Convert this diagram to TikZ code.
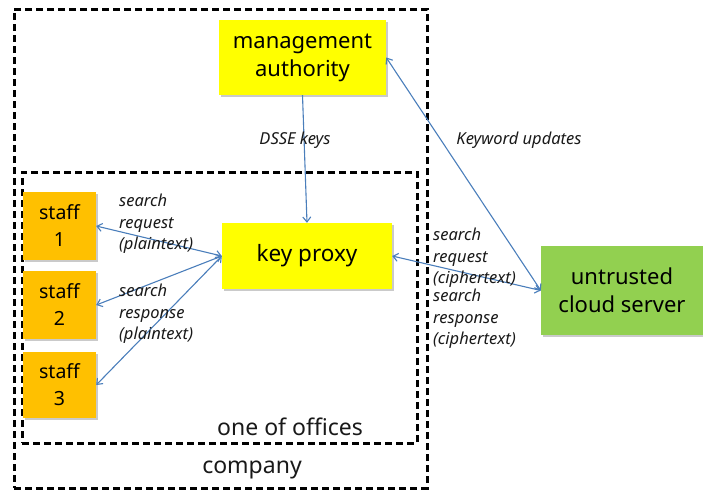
\documentclass[tikz,border=0pt]{standalone}
\usepackage{fontspec}
\setmainfont{Noto Sans}
\usetikzlibrary{arrows.meta,shadows}
\definecolor{arrowblue}{HTML}{4A7EBB}
\definecolor{boxyellow}{HTML}{FFFF00}
\definecolor{boxorange}{HTML}{FFC000}
\definecolor{boxgreen}{HTML}{92D050}
\tikzset{
  box/.style={draw=none, inner sep=0pt, align=center, text=black,
    font=\fontsize{22}{28}\selectfont,
    drop shadow={shadow xshift=1.5pt, shadow yshift=-1.5pt, fill=black!35, opacity=0.6}},
  ybox/.style={box, fill=boxyellow},
  sbox/.style={box, fill=boxorange, font=\fontsize{19.5}{27}\selectfont,
    minimum width=73pt, minimum height=68pt},
  gbox/.style={box, fill=boxgreen, font=\fontsize{22}{28}\selectfont},
  region/.style={draw=black, line width=3pt, dash pattern=on 7pt off 4pt},
  conn/.style={draw=arrowblue, line width=1.1pt, {Straight Barb[length=5pt,width=8pt]}-{Straight Barb[length=5pt,width=8pt]}},
  conn1/.style={draw=arrowblue, line width=1.1pt, -{Straight Barb[length=5pt,width=8pt]}},
  lbl/.style={inner sep=0pt, anchor=north west, align=left,
    font=\itshape\fontsize{16.5}{21.5}\selectfont, text=black!90},
  rlbl/.style={inner sep=0pt, font=\fontsize{23}{28}\selectfont, text=black!90}
}
\begin{document}
\begin{tikzpicture}[x=1pt,y=-1pt]
\useasboundingbox (0,0) rectangle (703,491);
% regions
\node[region, minimum width=413pt, minimum height=479pt, inner sep=0pt] (company) at (220.5,248.5) {};
\node[region, minimum width=395pt, minimum height=271pt, inner sep=0pt] (office) at (219.5,307.5) {};
\node[rlbl] (officelbl) at (290,427) {one of offices};
\node[rlbl] (companylbl) at (252,470) {company};
% boxes
\node[ybox, minimum width=167pt, minimum height=75pt] (mgmt) at (302.5,57.5) {management\\authority};
\node[ybox, minimum width=170pt, minimum height=66pt, font=\fontsize{22.5}{28}\selectfont] (kp) at (307,256) {key proxy};
\node[sbox] (s1) at (59.5,226) {staff\\1};
\node[sbox] (s2) at (59.5,305) {staff\\2};
\node[sbox, minimum height=66pt] (s3) at (59.5,385) {staff\\3};
\node[gbox, minimum width=162pt, minimum height=89pt] (cloud) at (622,290.5) {untrusted\\cloud server};
% connectors
\draw[conn1] (mgmt.south) -- (kp.north);
\draw[conn] (kp.west) -- (s1.east);
\draw[conn] (kp.west) -- (s2.east);
\draw[conn] (kp.west) -- (s3.east);
\draw[conn] (kp.east) -- (cloud.west);
\draw[conn] (mgmt.east) -- (cloud.west);
% labels
\node[lbl, anchor=center] (dsse) at (295,140) {DSSE keys};
\node[lbl, anchor=center] (kw) at (519,140) {Keyword updates};
\node[lbl] (reqp) at (119,194) {search\\request\\(plaintext)};
\node[lbl] (resp) at (119,284) {search\\response\\(plaintext)};
\node[lbl] (reqc) at (433,228) {search\\request\\(ciphertext)};
\node[lbl] (resc) at (433,289) {search\\response\\(ciphertext)};
\end{tikzpicture}
\end{document}
